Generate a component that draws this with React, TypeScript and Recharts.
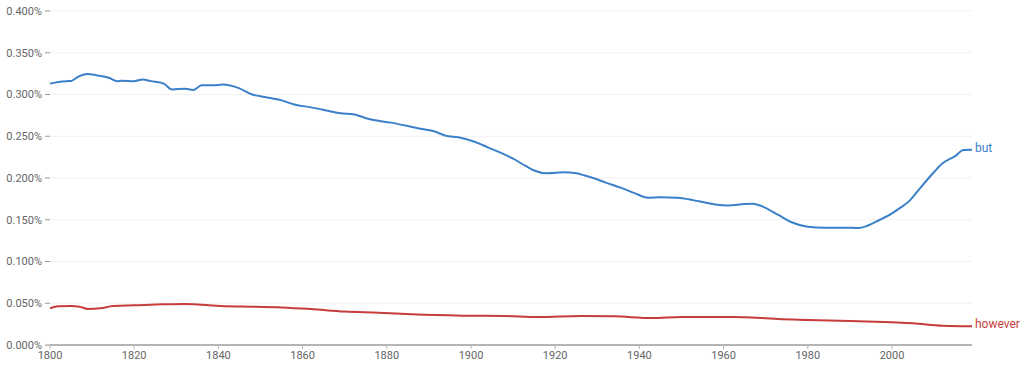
import React from "react";
import { LineChart, Line, XAxis, YAxis, CartesianGrid } from "recharts";

const butYears = [1800, 1802, 1804, 1805, 1806, 1807, 1809, 1811, 1814, 1816, 1817, 1820, 1822, 1824, 1827, 1829, 1832, 1834, 1836, 1839, 1841, 1845, 1848, 1851, 1855, 1858, 1862, 1866, 1869, 1872, 1876, 1881, 1888, 1891, 1894, 1897, 1901, 1904, 1907, 1910, 1913, 1915, 1918, 1922, 1925, 1927, 1929, 1932, 1936, 1939, 1942, 1945, 1949, 1953, 1955, 1958, 1961, 1965, 1967, 1969, 1973, 1976, 1980, 1984, 1989, 1992, 1994, 1997, 2000, 2002, 2004, 2006, 2008, 2010, 2012, 2015, 2017, 2019];
const butValues = [0.313, 0.315, 0.316, 0.3162, 0.319, 0.322, 0.3245, 0.323, 0.32, 0.316, 0.3165, 0.316, 0.318, 0.316, 0.313, 0.306, 0.307, 0.3054, 0.311, 0.311, 0.312, 0.3074, 0.3, 0.297, 0.293, 0.288, 0.2846, 0.2806, 0.2775, 0.2763, 0.2703, 0.2663, 0.259, 0.2563, 0.2507, 0.2487, 0.2431, 0.2367, 0.2303, 0.2231, 0.2144, 0.209, 0.2056, 0.2068, 0.2056, 0.203, 0.2, 0.1945, 0.1876, 0.1816, 0.1764, 0.1768, 0.1764, 0.1732, 0.1712, 0.1684, 0.1672, 0.1688, 0.1692, 0.1664, 0.1557, 0.1473, 0.1417, 0.1405, 0.1405, 0.1401, 0.1425, 0.1497, 0.1577, 0.1645, 0.172, 0.1838, 0.1958, 0.2072, 0.2176, 0.2263, 0.2335, 0.2338];

const howeverYears = [1800, 1802, 1805, 1807, 1809, 1812, 1815, 1820, 1827, 1832, 1836, 1842, 1848, 1855, 1862, 1870, 1878, 1886, 1898, 1908, 1916, 1926, 1934, 1943, 1950, 1962, 1969, 1973, 1980, 1990, 2000, 2005, 2012, 2019];
const howeverValues = [0.044, 0.0463, 0.0467, 0.0459, 0.0431, 0.044, 0.0467, 0.0475, 0.0487, 0.0491, 0.0483, 0.0463, 0.0459, 0.045, 0.043, 0.04, 0.0387, 0.0367, 0.0351, 0.0347, 0.0335, 0.0347, 0.0343, 0.0323, 0.0335, 0.0335, 0.0323, 0.0311, 0.03, 0.0287, 0.0271, 0.026, 0.0231, 0.0224];

const xTicks = [1800, 1820, 1840, 1860, 1880, 1900, 1920, 1940, 1960, 1980, 2000];
const yTicks = [0, 0.05, 0.1, 0.15, 0.2, 0.25, 0.3, 0.35, 0.4];

const BUT_COLOR = "#3b80c9";
const HOWEVER_COLOR = "#c73d3d";

const butData = butYears.map((year, i) => ({ year, value: butValues[i] }));
const howeverData = howeverYears.map((year, i) => ({ year, value: howeverValues[i] }));

const makeEndLabel = (text: string, color: string, lastIndex: number) => (props: any) => {
  const { x, y, index } = props;
  if (index !== lastIndex) return null;
  return (
    <text x={x + 3} y={y} dy={-1} fill={color} fontSize={12} fontFamily="Roboto, sans-serif" dominantBaseline="middle">
      {text}
    </text>
  );
};

export default function App() {
  return (
    <div style={{ position: "absolute", left: 0, top: 0, width: 1024, height: 367, background: "#fff" }}>
      <LineChart width={1024} height={367} margin={{ top: 11, right: 52, bottom: 0, left: 0 }}>
        <CartesianGrid vertical={false} stroke="#f1f1f1" strokeWidth={1} />
        <XAxis
          dataKey="year"
          type="number"
          domain={[1800, 2019]}
          ticks={xTicks}
          allowDuplicatedCategory={false}
          height={22}
          tickSize={4}
          tickMargin={2}
          axisLine={{ stroke: "#b5b5b5", strokeWidth: 2 }}
          tickLine={{ stroke: "#b5b5b5" }}
          tick={{ fontSize: 11, fill: "#666", fontFamily: "Roboto, sans-serif" }}
        />
        <YAxis
          type="number"
          domain={[0, 0.4]}
          ticks={yTicks}
          width={50}
          axisLine={false}
          tickSize={5}
          tickMargin={3}
          tickLine={{ stroke: "#999" }}
          tickFormatter={(v: number) => v.toFixed(3) + "%"}
          tick={{ fontSize: 11, fill: "#666", fontFamily: "Roboto, sans-serif" }}
        />
        <Line
          data={butData}
          dataKey="value"
          type="monotone"
          stroke={BUT_COLOR}
          strokeWidth={2}
          dot={false}
          isAnimationActive={false}
          label={makeEndLabel("but", BUT_COLOR, butData.length - 1)}
        />
        <Line
          data={howeverData}
          dataKey="value"
          type="monotone"
          stroke={HOWEVER_COLOR}
          strokeWidth={2}
          dot={false}
          isAnimationActive={false}
          label={makeEndLabel("however", HOWEVER_COLOR, howeverData.length - 1)}
        />
      </LineChart>
    </div>
  );
}
